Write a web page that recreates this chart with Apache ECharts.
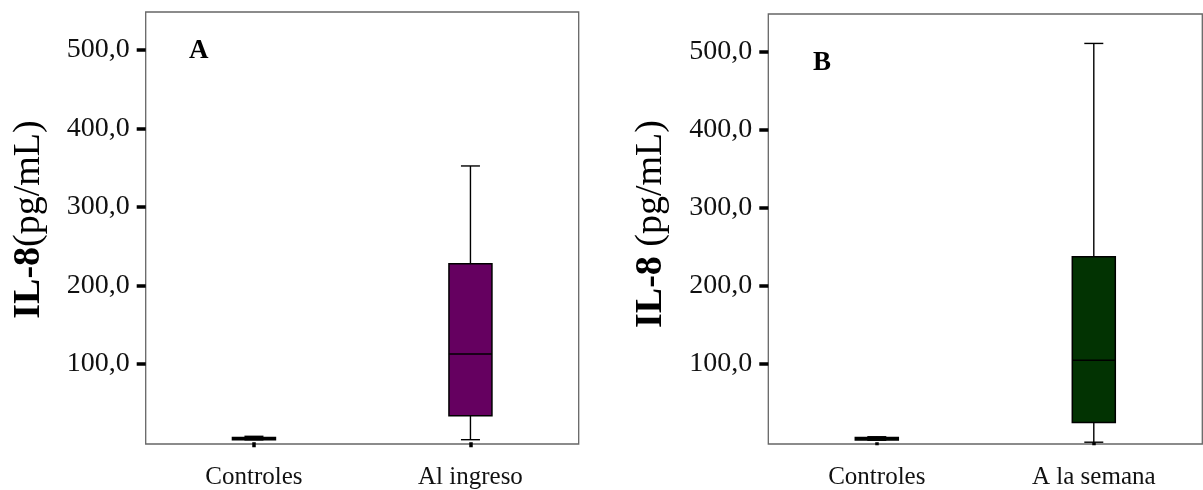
<!DOCTYPE html>
<html>
<head>
<meta charset="utf-8">
<script src="https://cdn.jsdelivr.net/npm/echarts@6/dist/echarts.min.js"></script>
<style>
html,body{margin:0;padding:0;background:#fff;}
#chart{width:1203px;height:490px;}
</style>
</head>
<body>
<div id="chart"></div>
<script>
// ---- data ----
const categoriesA = ['Controles', 'Al ingreso'];
const categoriesB = ['Controles', 'A la semana'];
// [min, Q1, median, Q3, max]
const boxesA = [[3.0, 3.0, 4.5, 6.0, 7.5], [3.2, 33.8, 112.4, 227.4, 352.2]];
const boxesB = [[2.5, 2.8, 4.5, 6.0, 7.0], [0.0, 25.1, 105.0, 237.4, 510.8]];
const yTickValues = [100, 200, 300, 400, 500];
const panelLabels = ['A', 'B'];
const yNamesA = ['IL-8', '(pg/mL)'];
const yNamesB = ['IL-8', ' (pg/mL)'];

const FONT = "'Liberation Serif', 'DejaVu Serif', serif";
const fillA = '#650060';
const fillB = '#023302';

function boxRender(fill) {
  return function (params, api) {
    const idx = api.value(0);
    const mn = api.value(1), q1 = api.value(2), md = api.value(3), q3 = api.value(4), mx = api.value(5);
    const pMax = api.coord([idx, mx]);
    const pQ3 = api.coord([idx, q3]);
    const pMd = api.coord([idx, md]);
    const pQ1 = api.coord([idx, q1]);
    const pMin = api.coord([idx, mn]);
    const x = pMd[0];
    const bw = 43, cw = 19;
    const line = { stroke: '#000', lineWidth: 1.4 };
    return {
      type: 'group',
      children: [
        { type: 'line', shape: { x1: x, y1: pMax[1], x2: x, y2: pQ3[1] }, style: line },
        { type: 'line', shape: { x1: x, y1: pQ1[1], x2: x, y2: pMin[1] }, style: line },
        { type: 'line', shape: { x1: x - cw / 2, y1: pMax[1], x2: x + cw / 2, y2: pMax[1] }, style: line },
        { type: 'line', shape: { x1: x - cw / 2, y1: pMin[1], x2: x + cw / 2, y2: pMin[1] }, style: line },
        { type: 'rect', shape: { x: x - bw / 2, y: pQ3[1], width: bw, height: Math.max(pQ1[1] - pQ3[1], 1) },
          style: { fill: fill, stroke: '#000', lineWidth: 1.5 } },
        { type: 'line', shape: { x1: x - bw / 2, y1: pMd[1], x2: x + bw / 2, y2: pMd[1] }, style: { stroke: '#000', lineWidth: 1.6 } }
      ]
    };
  };
}

function fmt(v) { return v.toFixed(1).replace('.', ','); }

function yAxis(gridIndex, names, padLeft) {
  return {
    type: 'value', gridIndex: gridIndex, min: -2.3, max: 548.5,
    name: '{b|' + names[0] + '}' + names[1],
    nameLocation: 'middle', nameRotate: 90, nameGap: 98,
    nameTextStyle: { fontFamily: FONT, fontSize: 38, color: '#000', padding: [0, 0, 0, padLeft],
      rich: { b: { fontFamily: FONT, fontSize: 38, fontWeight: 'bold', color: '#000' } } },
    axisLine: { show: false },
    splitLine: { show: false },
    axisTick: { show: true, inside: false, length: 9, customValues: yTickValues, lineStyle: { color: '#000', width: 3.5 } },
    axisLabel: { show: true, margin: 16, customValues: yTickValues, formatter: fmt,
      fontFamily: FONT, fontSize: 28, color: '#111' }
  };
}

function xAxis(gridIndex, cats, tickLen) {
  return {
    type: 'category', gridIndex: gridIndex, data: cats,
    axisLine: { show: false },
    axisTick: { show: true, alignWithLabel: true, length: tickLen, lineStyle: { color: '#000', width: 3.5 } },
    axisLabel: { margin: 21, fontFamily: FONT, fontSize: 25, color: '#111' },
    splitLine: { show: false }
  };
}

const chart = echarts.init(document.getElementById('chart'), null, { renderer: 'canvas' });
chart.setOption({
  backgroundColor: '#fff',
  animation: false,
  title: [
    { text: panelLabels[0], left: 184, top: 33, textStyle: { fontFamily: FONT, fontSize: 27, fontWeight: 'bold', color: '#000' } },
    { text: panelLabels[1], left: 808, top: 45, textStyle: { fontFamily: FONT, fontSize: 27, fontWeight: 'bold', color: '#000' } }
  ],
  grid: [
    { left: 145.7, top: 12, width: 433, height: 432.3, show: true, borderColor: '#666', borderWidth: 1.3, backgroundColor: 'transparent' },
    { left: 768.3, top: 14, width: 434, height: 434.3, show: true, borderColor: '#666', borderWidth: 1.3, backgroundColor: 'transparent' }
  ],
  xAxis: [xAxis(0, categoriesA, 5), xAxis(1, categoriesB, 3)],
  yAxis: [yAxis(0, yNamesA, 17), yAxis(1, yNamesB, 10)],
  series: [
    { type: 'custom', xAxisIndex: 0, yAxisIndex: 0, renderItem: boxRender(fillA),
      data: boxesA.map((b, i) => [i].concat(b)), encode: { x: 0, y: [1, 2, 3, 4, 5] } },
    { type: 'custom', xAxisIndex: 1, yAxisIndex: 1, renderItem: boxRender(fillB),
      data: boxesB.map((b, i) => [i].concat(b)), encode: { x: 0, y: [1, 2, 3, 4, 5] } }
  ]
});
</script>
</body>
</html>
